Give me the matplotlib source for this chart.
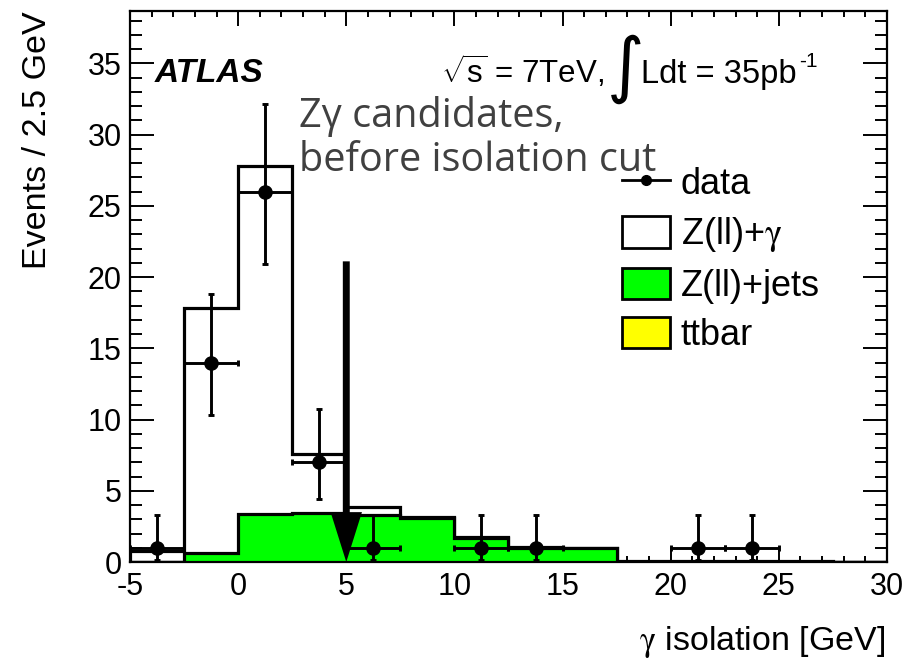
import numpy as np
import matplotlib
matplotlib.use("Agg")
import matplotlib.pyplot as plt
from matplotlib.lines import Line2D
from matplotlib.patches import Patch

plt.rcParams['font.family'] = ['Liberation Sans', 'DejaVu Sans']
plt.rcParams['mathtext.fontset'] = 'custom'
plt.rcParams['mathtext.rm'] = 'Liberation Sans'
plt.rcParams['mathtext.it'] = 'Liberation Sans:italic'
plt.rcParams['mathtext.bf'] = 'Liberation Sans:bold'
plt.rcParams['axes.unicode_minus'] = False

# ---------------- data ----------------
bin_edges = [-5, -2.5, 0, 2.5, 5, 7.5, 10, 12.5, 15, 17.5, 20, 22.5, 25, 27.5, 30]
zgamma = [0.77, 17.17, 24.45, 4.15, 0.56, 0.06, 0.03, 0.05, 0.01, 0.1, 0.1, 0.1, 0.1, 0.0]
zjets  = [0.0, 0.63, 3.35, 3.45, 3.3, 3.1, 1.7, 1.0, 0.95, 0.0, 0.0, 0.0, 0.0, 0.0]
ttbar  = [0.0, 0.0, 0.0, 0.0, 0.0, 0.0, 0.0, 0.0, 0.0, 0.0, 0.0, 0.0, 0.0, 0.0]

data_x = [-3.75, -1.25, 1.25, 3.75, 6.25, 11.25, 13.75, 21.25, 23.75]
data_y = [1, 14, 26, 7, 1, 1, 1, 1, 1]
data_err_lo = [0.83, 3.7, 5.06, 2.58, 0.83, 0.83, 0.83, 0.83, 0.83]
data_err_hi = [2.3, 4.83, 6.17, 3.77, 2.3, 2.3, 2.3, 2.3, 2.3]
bin_half_width = 1.25

cut_value = 5.0
arrow_top = 21.1

x_ticks = [-5, 0, 5, 10, 15, 20, 25, 30]
y_ticks = [0, 5, 10, 15, 20, 25, 30, 35]

# ---------------- figure ----------------
W, H = 920, 661
fig = plt.figure(figsize=(W / 100, H / 100), dpi=100)
L, R, T, B = 130, 887, 11, 562
ax = fig.add_axes([L / W, 1 - B / H, (R - L) / W, (B - T) / H])

def px(x, y):
    return ((x - L) / (R - L), (B - y) / (B - T))

edges = np.array(bin_edges)
zg = np.array(zgamma)
zj = np.array(zjets)
tt = np.array(ttbar)

lw_h = 2.3
ax.stairs(zg + zj + tt, edges, fill=True, facecolor='white', edgecolor='black', lw=lw_h, zorder=2)
ax.stairs(zj + tt, edges, fill=True, facecolor='#00ff00', edgecolor='black', lw=lw_h, zorder=3)
ax.stairs(tt, edges, fill=True, facecolor='#ffff00', edgecolor='black', lw=lw_h, zorder=4)

# cut arrow
ax.arrow(cut_value, arrow_top, 0, -arrow_top, width=0.32, head_width=1.45,
         head_length=3.5, length_includes_head=True, color='black', lw=0, zorder=5)

# data
ax.errorbar(data_x, data_y, yerr=[data_err_lo, data_err_hi],
            xerr=bin_half_width, fmt='o', color='black', ms=9.5,
            elinewidth=2.1, capsize=2.5, capthick=2.1, zorder=6)

ax.set_xlim(-5, 30)
ax.set_ylim(0, 38.67)
ax.set_xticks(x_ticks)
ax.set_yticks(y_ticks)
ax.set_xticks(np.arange(-5, 30.01, 1), minor=True)
ax.set_yticks(np.arange(0, 38.6, 1), minor=True)
ax.tick_params(which='both', direction='in', top=True, right=True, width=1.4, labelsize=22)
ax.tick_params(axis='y', which='major', length=17, pad=6)
ax.tick_params(axis='y', which='minor', length=8.5)
ax.tick_params(axis='x', which='major', length=11, pad=7)
ax.tick_params(axis='x', which='minor', length=4.5)
for s in ax.spines.values():
    s.set_linewidth(1.6)

ax.set_xlabel(r'$\mathrm{\gamma}$ isolation [GeV]', fontsize=24.5, loc='right',
              math_fontfamily='stix')
ax.xaxis.set_label_coords(*px(885, 624))
ax.set_ylabel('Events / 2.5 GeV', fontsize=24.5, loc='top')
ax.yaxis.set_label_coords(*px(53, 11))

# annotations
ax.text(*px(155, 82), 'ATLAS', transform=ax.transAxes, fontsize=24,
        fontweight='bold', fontstyle='italic', va='baseline', ha='left')
ax.text(*px(441, 83), r'$\sqrt{\mathrm{s}}$ = 7TeV,', transform=ax.transAxes,
        fontsize=22.5, va='baseline', ha='left')
ax.text(*px(626, 69), '\u222b', transform=ax.transAxes, fontsize=52,
        va='center', ha='center', family=['DejaVu Sans'])
lumi = ax.text(*px(641, 83), 'Ldt = 35pb', transform=ax.transAxes,
               fontsize=23.5, va='baseline', ha='left')
ax.annotate('-1', xy=(1.0, 0.6), xycoords=lumi, xytext=(1.5, 0),
            textcoords='offset points', fontsize=15, va='bottom', ha='left')
ax.text(*px(299, 127), 'Z\u03b3 candidates,', transform=ax.transAxes, fontsize=28.5,
        color='#404040', va='baseline', ha='left', family=['Open Sans', 'DejaVu Sans'])
ax.text(*px(299, 171), 'before isolation cut', transform=ax.transAxes, fontsize=28.5,
        color='#404040', va='baseline', ha='left', family=['Open Sans', 'DejaVu Sans'])

handles = [
    Line2D([], [], color='black', marker='o', lw=2, ms=7),
    Patch(facecolor='white', edgecolor='black', lw=2),
    Patch(facecolor='#00ff00', edgecolor='black', lw=2),
    Patch(facecolor='#ffff00', edgecolor='black', lw=2),
]
labels = ['data', r'Z(ll)+$\mathrm{\gamma}$', 'Z(ll)+jets', 'ttbar']
leg = fig.legend(handles, labels, loc='upper left',
                 bbox_to_anchor=(622 / W, 1 - 166 / H), frameon=False,
                 fontsize=26, handlelength=1.33, handleheight=0.95,
                 handletextpad=0.3, labelspacing=0.37, borderpad=0, borderaxespad=0)
leg.get_texts()[1].set_math_fontfamily('stix')

fig.savefig('out.png', dpi=100)
